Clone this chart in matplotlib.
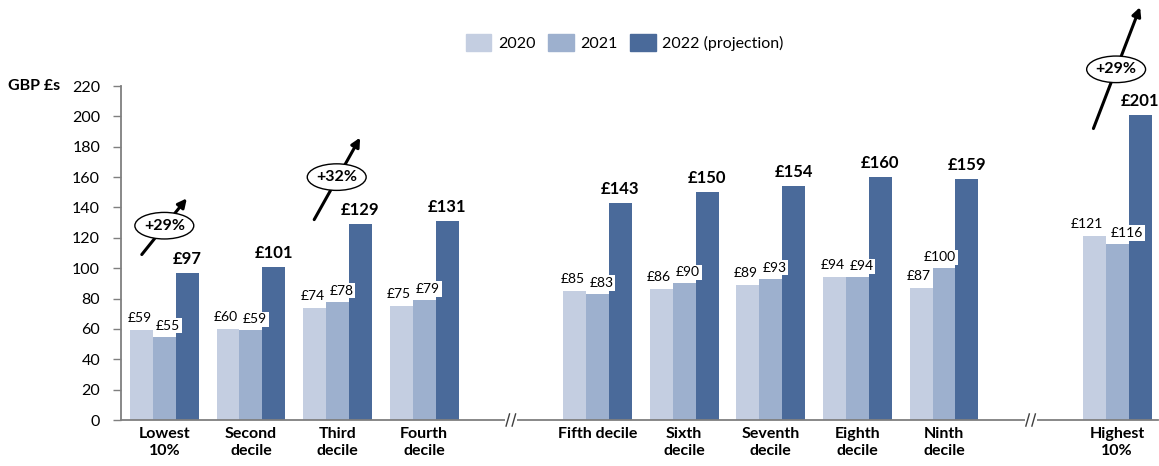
import numpy as np
import matplotlib
matplotlib.use("Agg")
import matplotlib.pyplot as plt
from matplotlib.patches import Ellipse, Patch

plt.rcParams.update({
    "font.family": ["Lato", "DejaVu Sans"],
    "font.size": 11.5,
    "axes.edgecolor": "#7f7f7f",
    "axes.linewidth": 1.3,
})

# Household spend per decile, GBP
categories = ["Lowest\n10%", "Second\ndecile", "Third\ndecile", "Fourth\ndecile",
              "Fifth decile", "Sixth\ndecile", "Seventh\ndecile", "Eighth\ndecile",
              "Ninth\ndecile", "Highest\n10%"]
series_names = ["2020", "2021", "2022 (projection)"]
vals_2020 = [59, 60, 74, 75, 85, 86, 89, 94, 87, 121]
vals_2021 = [55, 59, 78, 79, 83, 90, 93, 94, 100, 116]
vals_2022 = [97, 101, 129, 131, 143, 150, 154, 160, 159, 201]
yticks = list(range(0, 221, 20))

# growth call-outs: (group index, label)
callouts = [(0, "+29%"), (2, "+32%"), (9, "+29%")]

colors = ["#c4cee1", "#9db0ce", "#4a6a9a"]

# x layout: axis breaks leave an empty slot before Fifth decile and Highest 10%
group_pos = np.array([0, 1, 2, 3, 5, 6, 7, 8, 9, 11])
break_pos = [4, 10]
bw = 0.265

# horizontal nudges (pixels) for the small value labels so neighbours don't collide
nudge_2020 = {9: -7}
nudge_2021 = {8: -4, 9: 10}

fig = plt.figure(figsize=(11.59, 4.66), dpi=100)
ax = fig.add_axes([0.1044, 0.0987, 0.8947, 0.7167])

x20 = group_pos - bw
x21 = group_pos
x22 = group_pos + bw
ax.bar(x20, vals_2020, width=bw, color=colors[0], label=series_names[0], zorder=2)
ax.bar(x21, vals_2021, width=bw, color=colors[1], label=series_names[1], zorder=2)
ax.bar(x22, vals_2022, width=bw, color=colors[2], label=series_names[2], zorder=2)

box = dict(boxstyle="square,pad=0.12", fc="white", ec="none")
for i in range(len(categories)):
    ax.annotate(f"£{vals_2020[i]}", xy=(x20[i], vals_2020[i]),
                xytext=(nudge_2020.get(i, -2), 6),
                textcoords="offset pixels", ha="center", va="bottom",
                fontsize=10, bbox=box, zorder=4)
    ax.annotate(f"£{vals_2021[i]}", xy=(x21[i], vals_2021[i]),
                xytext=(nudge_2021.get(i, 4), 5),
                textcoords="offset pixels", ha="center", va="bottom",
                fontsize=10, bbox=box, zorder=4)
    ax.annotate(f"£{vals_2022[i]}", xy=(x22[i], vals_2022[i]), xytext=(0, 6),
                textcoords="offset pixels", ha="center", va="bottom",
                fontsize=12, fontweight="bold", zorder=4)

# arrows with ellipse labels
for idx, txt in callouts:
    cx = group_pos[idx]
    if idx == 9:
        start, end, mid = (cx - 0.275, 192), (cx + 0.264, 272), (cx - 0.013, 231)
    elif idx == 2:
        start, end, mid = (cx - 0.27, 132), (cx + 0.26, 186), (cx - 0.01, 160)
    else:
        start, end, mid = (cx - 0.26, 109), (cx + 0.26, 146), (cx, 128)
    ax.annotate("", xy=end, xytext=start, annotation_clip=False,
                arrowprops=dict(arrowstyle="-|>", color="black", lw=2.2,
                                mutation_scale=13, shrinkA=0, shrinkB=0),
                zorder=5)
    ax.add_patch(Ellipse(mid, width=0.68, height=17.5, fc="white", ec="black",
                         lw=1.0, zorder=6, clip_on=False))
    ax.text(mid[0], mid[1], txt, ha="center", va="center", fontsize=11.5,
            fontweight="bold", zorder=7)

ax.set_xlim(-0.5, 11.47)
ax.set_ylim(0, 220)
ax.set_yticks(yticks)
ax.set_xticks(group_pos)
ax.set_xticklabels(categories, fontweight="bold", linespacing=1.3)
ax.tick_params(axis="x", length=0, pad=5)
ax.tick_params(axis="y", length=6, width=1.0, color="#7f7f7f", pad=9, labelsize=11.5)
ax.spines["top"].set_visible(False)
ax.spines["right"].set_visible(False)

# axis break marks
for bp in break_pos:
    ax.plot([bp - 0.07, bp + 0.07], [0, 0], color="white", lw=3, zorder=3,
            clip_on=False, solid_capstyle="butt")
    for dx in (-0.035, 0.035):
        ax.plot([bp + dx - 0.02, bp + dx + 0.02], [-4, 4], color="#404040",
                lw=1.0, zorder=4, clip_on=False)

fig.text(8 / 1159, 1 - 86 / 466, "GBP £s", ha="left", va="center",
         fontsize=11.5, fontweight="bold")

handles = [Patch(color=c) for c in colors]
fig.legend(handles, series_names, loc="center", bbox_to_anchor=(0.539, 0.908),
           ncol=3, frameon=False, handlelength=1.6, handleheight=1.25,
           handletextpad=0.4, columnspacing=0.8, fontsize=11.5)

fig.savefig("out.png", dpi=100)
